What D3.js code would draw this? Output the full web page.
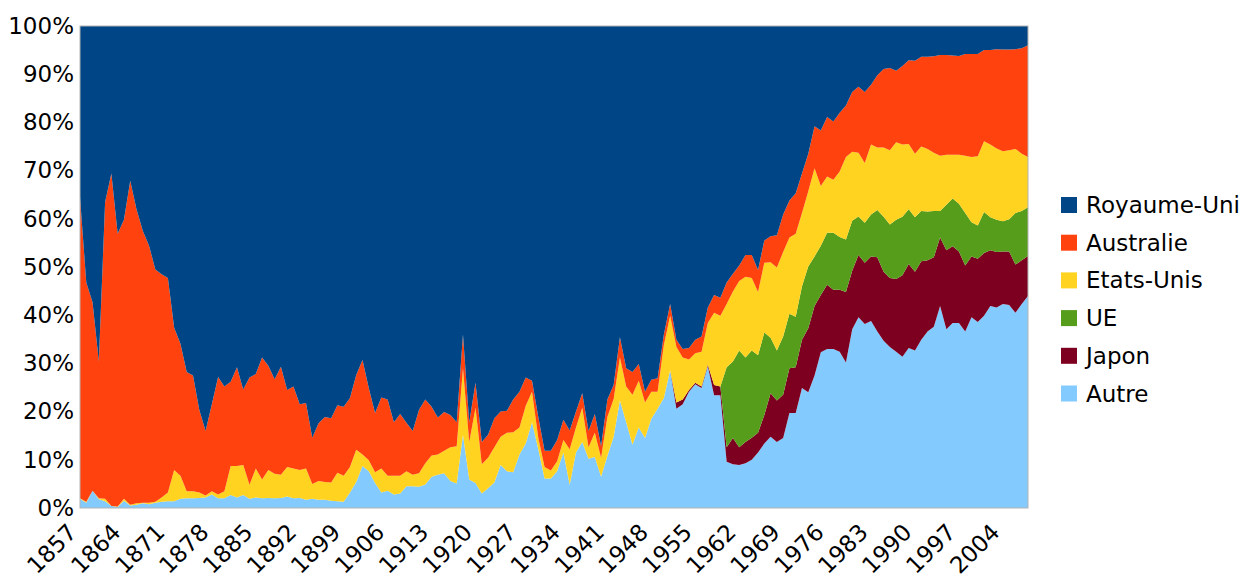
<!DOCTYPE html>
<html>
<head>
<meta charset="utf-8">
<script src="https://cdn.jsdelivr.net/npm/d3@7"></script>
<style>
  body { margin: 0; background: #fff; }
  text { font-family: "DejaVu Sans", sans-serif; }
</style>
</head>
<body>
<div class="canva"></div>
<script>
// years 1857 .. 2008, one value per year (share of exports, %)
const years = d3.range(1857, 2009);

const autre = [
  1.9,1.1,3.6,1.8,1.4,0.4,0.2,1.5,0.5,0.7,1.0,0.8,1.1,1.3,1.4,1.4,1.9,2.0,2.0,2.1,2.2,2.8,2.0,2.0,2.7,2.2,2.7,1.9,2.2,2.0,2.1,
  2.0,2.1,2.4,2.0,2.1,1.7,1.9,1.7,1.7,1.5,1.4,1.3,3.2,5.4,8.7,7.6,5.2,3.2,3.6,2.8,3.0,4.5,4.5,4.4,4.9,6.5,6.9,7.2,5.6,5.1,
  15.2,5.9,5.2,3.0,4.1,5.3,8.9,7.6,7.4,11.1,13.4,17.8,12.2,6.1,6.1,7.6,11.5,4.8,11.5,13.7,10.2,10.6,6.5,10.8,14.8,22.3,17.8,13.1,16.7,14.5,
  18.5,20.6,22.8,28.6,20.6,21.5,24.1,25.7,24.9,29.4,23.4,23.4,9.6,9.1,8.9,9.3,10.0,11.5,13.4,14.8,13.7,14.5,19.7,19.7,24.9,24.0,27.5,32.3,33.0,33.0,32.4,
  30.2,37.1,39.6,38.2,38.8,36.6,34.7,33.4,32.4,31.4,33.2,32.7,34.9,36.6,37.6,41.9,37.1,38.4,38.4,36.6,39.6,38.6,39.9,41.9,41.6,42.3,42.1,40.5,42.3,44.0
];

const japon = [
  0,0,0,0,0,0,0,0,0,0,0,0,0,0,0,0,0,0,0,0,0,0,0,0,0,0,0,0,0,0,0,
  0,0,0,0,0,0,0,0,0,0,0,0,0,0,0,0,0,0,0,0,0,0,0,0,0,0,0,0,0,0,
  0,0,0,0,0,0,0,0,0,0,0,0,0,0,0,0,0,0,0,0,0,0,0,0,0,0,0,0,0,0,
  0,0,0,0,1.3,1.0,0.4,0.3,0.3,0.3,2.1,1.8,3.0,5.4,3.7,4.4,4.6,4.1,5.9,9.0,8.6,9.0,9.3,9.5,10.0,13.3,14.4,11.9,13.3,12.3,12.9,
  14.6,12.1,12.9,12.7,13.4,15.4,14.3,14.3,15.1,16.9,17.4,16.3,16.3,14.8,14.4,14.2,16.4,15.9,14.8,13.7,12.6,13.1,13.0,11.6,11.5,10.9,11.1,10.0,9.1,8.3
];

const ue = [
  0,0,0,0,0,0,0,0,0,0,0,0,0,0,0,0,0,0,0,0,0,0,0,0,0,0,0,0,0,0,0,
  0,0,0,0,0,0,0,0,0,0,0,0,0,0,0,0,0,0,0,0,0,0,0,0,0,0,0,0,0,0,
  0,0,0,0,0,0,0,0,0,0,0,0,0,0,0,0,0,0,0,0,0,0,0,0,0,0,0,0,0,0,
  0,0,0,0,0,0,0,0,0,0,0,0,16.6,15.9,20.1,17.5,18.1,16.1,17.1,11.5,10.4,12.1,11.3,10.5,11.1,12.8,10.3,10.2,10.8,11.8,10.9,
  10.9,10.4,8.0,8.3,8.7,9.8,11.4,11.1,12.3,12.1,11.4,11.3,10.4,10.1,9.6,5.5,9.4,9.9,9.9,10.9,7.1,6.9,8.5,6.8,6.7,6.3,6.7,10.7,10.2,10.1
];

const etatsUnis = [
  0.1,0.2,0.0,0.2,0.5,0.0,0.1,0.4,0.2,0.3,0.1,0.3,0.2,0.9,1.8,6.5,4.8,1.5,1.5,1.1,0.4,0.7,0.8,1.5,6.0,6.5,6.2,2.9,6.0,3.9,5.8,
  5.1,4.8,6.1,6.2,5.8,6.5,3.1,3.9,3.7,3.8,5.9,5.4,5.3,6.7,2.4,2.3,2.2,5.0,3.1,3.9,3.7,3.1,2.4,2.8,4.4,4.4,4.2,4.7,7.0,7.7,
  13.8,7.8,15.6,6.1,6.3,7.3,5.9,8.0,8.3,5.6,7.8,6.3,2.3,2.4,1.7,2.1,2.6,7.4,5.2,7.1,2.4,5.0,3.9,8.1,7.8,8.9,7.4,10.4,9.7,7.4,
  5.6,3.5,11.0,11.3,11.5,8.7,6.3,6.1,7.2,8.7,15.0,14.7,13.1,14.5,14.4,16.8,15.0,13.1,14.5,15.7,17.2,17.5,15.8,17.2,15.2,15.6,18.3,12.4,11.7,11.0,13.6,
  17.1,14.3,13.2,12.4,14.5,13.0,14.4,15.4,16.1,15.0,13.5,13.2,13.4,13.0,12.1,11.5,10.4,9.1,10.2,11.9,13.5,14.4,14.7,15.1,14.8,14.5,14.3,13.3,11.9,10.4
];

const australie = [
  62.5,45.5,39.1,28.4,61.6,69.0,56.6,57.9,67.2,61.0,56.4,53.3,48.2,46.3,44.5,29.5,27.4,24.7,24.0,17.2,13.4,18.0,24.4,21.7,17.5,20.5,15.7,22.3,19.6,25.3,21.6,
  19.6,22.4,16.0,17.0,13.6,13.6,9.6,12.0,13.5,13.3,14.0,14.3,14.3,15.5,19.6,15.0,12.3,14.7,15.8,11.1,12.8,10.1,9.1,13.2,13.2,10.1,7.7,8.0,6.7,5.0,
  7.0,4.1,5.2,4.6,4.8,6.0,5.2,4.6,6.8,7.4,5.9,2.3,4.4,3.4,4.1,4.4,4.2,3.9,3.3,3.0,3.4,3.9,2.4,3.6,2.9,4.2,3.8,4.7,3.5,2.2,
  2.5,2.8,2.2,2.4,1.5,1.8,2.4,2.8,3.2,3.2,3.7,3.7,4.5,3.7,3.2,4.5,4.8,4.6,4.6,5.4,6.7,7.8,7.7,8.4,8.2,7.8,8.7,11.5,12.3,12.1,12.2,
  10.7,12.4,13.7,14.7,12.4,15.0,16.3,17.1,14.8,16.3,17.4,19.3,18.6,19.1,20.0,20.9,20.7,20.6,20.5,21.1,21.4,21.2,18.9,19.6,20.6,21.1,20.9,20.7,21.9,23.2
];

const royaumeUni = [
  35.5,53.2,57.3,69.6,36.5,30.6,43.1,40.2,32.1,38.0,42.5,45.6,50.5,51.5,52.3,62.6,65.9,71.8,72.5,79.6,84.0,78.5,72.8,74.8,73.8,70.8,75.4,72.9,72.2,68.8,70.5,
  73.3,70.7,75.5,74.8,78.5,78.2,85.4,82.4,81.1,81.4,78.7,79.0,77.2,72.4,69.3,75.1,80.3,77.1,77.5,82.2,80.5,82.3,84.0,79.6,77.5,79.0,81.2,80.1,80.7,82.2,
  64.0,82.2,74.0,86.3,84.8,81.4,80.0,79.8,77.5,75.9,72.9,73.6,81.1,88.1,88.1,85.9,81.7,83.9,80.0,76.2,84.0,80.5,87.2,77.5,74.5,64.6,71.0,71.8,70.1,75.9,
  73.4,73.1,64.0,57.7,65.1,67.0,66.8,65.1,64.4,58.4,55.8,56.4,53.2,51.4,49.7,47.5,47.5,50.6,44.5,43.6,43.4,39.1,36.2,34.7,30.6,26.5,20.8,21.7,18.9,19.8,18.0,
  16.5,13.7,12.6,13.7,12.2,10.2,8.9,8.7,9.3,8.3,7.1,7.2,6.4,6.4,6.3,6.0,6.0,6.1,6.2,5.8,5.8,5.8,5.0,5.0,4.8,4.9,4.9,4.8,4.6,4.0
];

// stacking order, bottom first
const seriesNames = ["Autre", "Japon", "UE", "Etats-Unis", "Australie", "Royaume-Uni"];
const seriesColors = ["#83caff", "#7e0021", "#579d1c", "#ffd320", "#ff420e", "#004586"];
const tickYears = d3.range(1857, 2009, 7);

const width = 1246, height = 580;
const margin = {top: 26, right: 218, bottom: 72, left: 80};
const graphWidth = width - margin.left - margin.right;
const graphHeight = height - margin.top - margin.bottom;

const svg = d3.select(".canva").append("svg")
    .attr("width", width)
    .attr("height", height);

const graph = svg.append("g")
    .attr("transform", `translate(${margin.left},${margin.top})`);

// build rows for d3.stack
const columns = [autre, japon, ue, etatsUnis, australie, royaumeUni];
const table = years.map((yr, i) => {
  const row = {year: yr};
  seriesNames.forEach((name, k) => row[name] = columns[k][i]);
  return row;
});

const stack = d3.stack()
    .keys(seriesNames)
    .offset(d3.stackOffsetExpand);
const layers = stack(table);

const x = d3.scaleLinear()
    .domain(d3.extent(years))
    .range([0, graphWidth]);

const y = d3.scaleLinear()
    .domain([0, 1])
    .range([graphHeight, 0]);

const color = d3.scaleOrdinal().domain(seriesNames).range(seriesColors);

const area = d3.area()
    .x(d => x(d.data.year))
    .y0(d => y(d[0]))
    .y1(d => y(d[1]));

graph.selectAll("path.layer")
  .data(layers)
  .enter()
  .append("path")
    .attr("class", "layer")
    .attr("d", area)
    .attr("fill", d => color(d.key));

// frame
graph.append("rect")
    .attr("width", graphWidth)
    .attr("height", graphHeight)
    .attr("fill", "none")
    .attr("stroke", "#b3b3b3")
    .attr("stroke-width", 1);

// y axis
const yAxis = d3.axisLeft(y)
    .tickValues(d3.range(0, 1.01, 0.1))
    .tickFormat(d3.format(".0%"))
    .tickSize(0)
    .tickPadding(6);

graph.append("g")
    .call(yAxis)
    .call(g => g.select(".domain").remove())
    .selectAll("text")
      .attr("font-family", "DejaVu Sans, sans-serif")
      .attr("font-size", 23)
      .attr("fill", "#000");

// x axis with rotated labels
const xAxis = d3.axisBottom(x)
    .tickValues(tickYears)
    .tickFormat(d3.format("d"))
    .tickSize(0);

graph.append("g")
    .attr("transform", `translate(0,${graphHeight})`)
    .call(xAxis)
    .call(g => g.select(".domain").remove())
    .selectAll("text")
      .attr("font-family", "DejaVu Sans, sans-serif")
      .attr("font-size", 23)
      .attr("fill", "#000")
      .attr("text-anchor", "end")
      .attr("y", 0)
      .attr("dy", "0.35em")
      .attr("transform", "translate(-8,20) rotate(-45)");

// legend, top series first
const legend = svg.append("g")
    .attr("transform", "translate(1061,205)");

const legendItems = legend.selectAll("g")
  .data(seriesNames.slice().reverse())
  .enter()
  .append("g")
    .attr("transform", (d, i) => `translate(0,${i * 37.7})`);

legendItems.append("rect")
    .attr("x", 0)
    .attr("y", -8)
    .attr("width", 16)
    .attr("height", 16)
    .attr("fill", d => color(d));

legendItems.append("text")
    .attr("x", 25)
    .attr("dy", "0.35em")
    .attr("font-size", 23)
    .attr("fill", "#000")
    .text(d => d);
</script>
</body>
</html>
